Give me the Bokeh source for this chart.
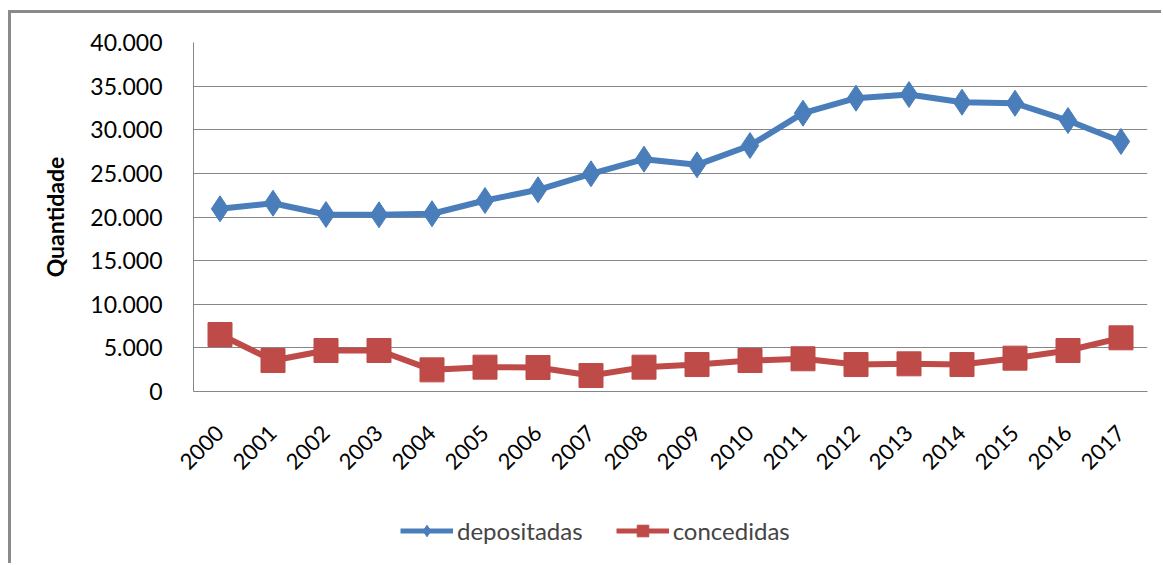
import math
from bokeh.plotting import figure
from bokeh.layouts import column
from bokeh.models import Range1d, FixedTicker, Legend, LegendItem
from bokeh.embed import file_html
from bokeh.resources import INLINE

years = [str(y) for y in range(2000, 2018)]
depositadas = [20940, 21580, 20290, 20250, 20370, 21890, 23120, 24950, 26630,
               25980, 28190, 31900, 33620, 34040, 33160, 33040, 31060, 28650]
concedidas = [6530, 3550, 4700, 4700, 2480, 2790, 2750, 1830, 2790,
              3090, 3550, 3750, 3090, 3170, 3090, 3820, 4700, 6150]
y_ticks = [0, 5000, 10000, 15000, 20000, 25000, 30000, 35000, 40000]
y_tick_labels = ["0", "5.000", "10.000", "15.000", "20.000", "25.000", "30.000", "35.000", "40.000"]
series_names = ["depositadas", "concedidas"]

BLUE = "#4a7ebb"
RED = "#be4b48"
FONT = "Lato"

p = figure(x_range=years, y_range=Range1d(0, 40000), width=1150, height=494,
           output_backend="svg", toolbar_location=None,
           min_border_left=182, min_border_top=29, min_border_right=14, min_border_bottom=116)
p.outline_line_color = None
p.background_fill_color = "white"
p.border_fill_color = "white"

p.xgrid.grid_line_color = None
p.ygrid.grid_line_color = "#868686"
p.ygrid.grid_line_width = 1

p.yaxis.ticker = FixedTicker(ticks=y_ticks)
p.yaxis.major_label_overrides = {t: l for t, l in zip(y_ticks, y_tick_labels)}
p.yaxis.major_tick_line_color = None
p.yaxis.minor_tick_line_color = None
p.yaxis.axis_line_color = "#868686"
p.yaxis.major_label_text_font = FONT
p.yaxis.major_label_text_font_size = "23px"
p.yaxis.major_label_text_color = "#000000"
p.yaxis.major_label_standoff = 25
p.yaxis.axis_label = "Quantidade"
p.yaxis.axis_label_text_font = FONT
p.yaxis.axis_label_text_font_size = "23px"
p.yaxis.axis_label_text_font_style = "bold"
p.yaxis.axis_label_text_color = "#000000"
p.yaxis.axis_label_standoff = 18

p.xaxis.major_tick_line_color = None
p.xaxis.minor_tick_line_color = None
p.xaxis.axis_line_color = "#868686"
p.xaxis.major_label_orientation = math.pi / 4
p.xaxis.major_label_text_font = FONT
p.xaxis.major_label_text_font_size = "22px"
p.xaxis.major_label_text_color = "#000000"
p.xaxis.major_label_standoff = 32

p.line(years, depositadas, line_color=BLUE, line_width=6)
p.scatter(years, depositadas, marker="diamond", size=26, fill_color=BLUE, line_color=BLUE)
p.line(years, concedidas, line_color=RED, line_width=6)
p.scatter(years, concedidas, marker="square", size=24, fill_color=RED, line_color=RED)

# legend strip (series drawn out of view; only the legend shows)
q = figure(x_range=years, y_range=Range1d(1e6, 2e6), width=1150, height=56,
           output_backend="svg", toolbar_location=None,
           x_axis_location=None, y_axis_location=None,
           min_border_left=0, min_border_right=0, min_border_top=0, min_border_bottom=0)
q.outline_line_color = None
q.grid.grid_line_color = None
q.background_fill_color = "white"
q.border_fill_color = "white"
ql1 = q.line(years, depositadas, line_color=BLUE, line_width=5)
qm1 = q.scatter(years, depositadas, marker="diamond", size=22, fill_color=BLUE, line_color=BLUE)
ql2 = q.line(years, concedidas, line_color=RED, line_width=5)
qm2 = q.scatter(years, concedidas, marker="square", size=18, fill_color=RED, line_color=RED)

legend = Legend(items=[LegendItem(label=series_names[0], renderers=[ql1, qm1]),
                       LegendItem(label=series_names[1], renderers=[ql2, qm2])],
                orientation="horizontal", location=(207, 18), margin=0, padding=4,
                glyph_width=53, glyph_height=29, spacing=33, label_standoff=4,
                label_text_font=FONT, label_text_font_size="24px",
                border_line_color=None, background_fill_alpha=0)
q.add_layout(legend, "center")

layout = column(p, q, spacing=0,
                styles={"margin-left": "8px", "margin-top": "10px",
                        "border-left": "3px solid #8a8a8a", "border-top": "3px solid #8a8a8a"})

open("out.html", "w").write(file_html(layout, INLINE))
